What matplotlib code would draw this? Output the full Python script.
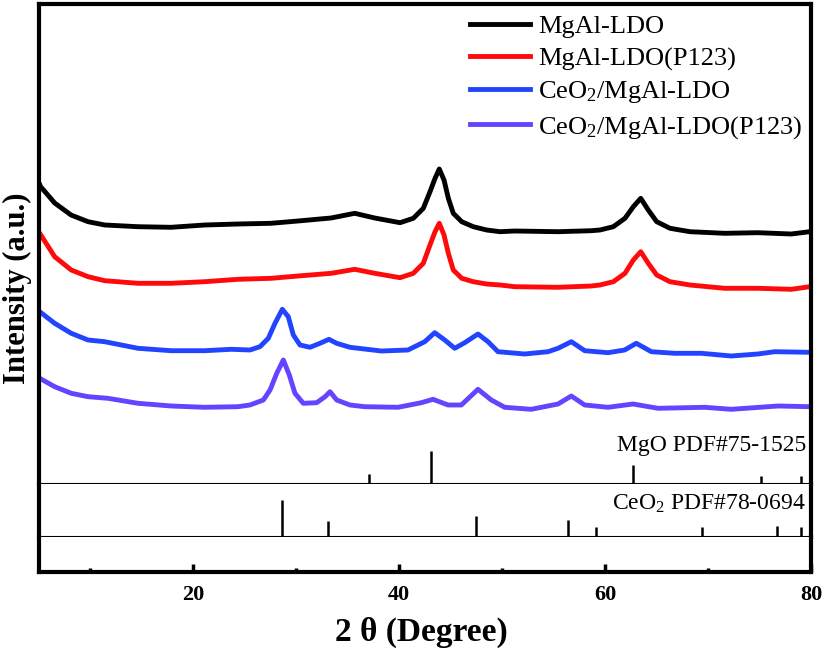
import matplotlib
matplotlib.use("Agg")
import matplotlib.pyplot as plt
import numpy as np

plt.rcParams['font.family'] = ['Liberation Serif', 'DejaVu Serif']
plt.rcParams['mathtext.fontset'] = 'custom'
plt.rcParams['mathtext.rm'] = 'Liberation Serif'
plt.rcParams['mathtext.it'] = 'Liberation Serif:italic'
plt.rcParams['mathtext.bf'] = 'Liberation Serif:bold'

# ---------------- data ----------------
labels = ['MgAl-LDO', 'MgAl-LDO(P123)', 'CeO$_2$/MgAl-LDO', 'CeO$_2$/MgAl-LDO(P123)']
colors = ['#000000', '#FF0A0A', '#2244FF', '#6644FF']

x_black = [5.05, 5.21, 6.57, 8.16, 9.81, 11.43, 14.66, 17.86, 21.14, 24.37, 27.57, 30.19, 33.40,
           35.70, 37.64, 40.10, 41.39, 42.36, 43.01, 43.50, 43.91, 44.37, 44.79, 45.27, 46.09,
           47.21, 48.51, 49.81, 51.23, 55.44, 58.67, 59.51, 60.81, 61.94, 62.75, 63.47, 64.20,
           65.02, 66.31, 68.25, 71.62, 74.85, 78.09, 79.87]
y_black = [301, 297.3, 281, 269, 262.3, 259, 257.3, 256.7, 259, 260, 260.7, 263, 266,
           270.7, 266, 261.3, 265.7, 275.7, 292.3, 305.7, 315, 304, 285.7, 270.7, 262.3,
           257.3, 254, 252.3, 253, 252.3, 253.3, 254, 257.3, 265.7, 277.3, 285.7, 274,
           262.3, 255.7, 252.3, 250.7, 251.3, 250, 252.3]

x_red = [5.10, 6.57, 8.18, 9.81, 11.43, 14.66, 17.89, 21.14, 24.37, 27.60, 30.19, 33.43,
         35.70, 37.64, 40.10, 41.39, 42.36, 43.01, 43.50, 43.91, 44.37, 44.79, 45.27, 46.09,
         47.21, 48.51, 49.81, 51.23, 55.44, 58.67, 59.51, 60.81, 61.94, 62.75, 63.47, 64.20,
         65.02, 66.31, 68.25, 71.62, 74.85, 78.09, 79.87]
y_red = [251, 227.3, 214, 207.3, 203.3, 200.7, 200.7, 202.3, 204.7, 205.7, 208, 210.7,
         214.7, 210.7, 206.3, 210.7, 220.7, 239, 252.3, 260.7, 249, 230.7, 214, 205.7,
         202.3, 200, 199, 197.3, 196.7, 198, 199, 202.3, 210.7, 224, 232.3, 220.7,
         209, 202.3, 199, 195.7, 195.7, 194.7, 197.3]

x_blue = [5.12, 6.57, 8.18, 9.81, 11.43, 13.04, 14.66, 17.89, 21.14, 23.72, 25.53, 26.50,
          27.31, 27.96, 28.67, 29.25, 29.74, 30.39, 31.36, 32.33, 33.20, 33.95, 35.24, 38.28,
          40.87, 42.50, 43.47, 44.44, 45.41, 46.38, 47.67, 48.64, 49.61, 52.20, 54.47, 55.44,
          56.73, 58.03, 60.29, 61.91, 63.04, 64.50, 66.77, 69.35, 72.26, 74.85, 76.47, 79.87]
y_blue = [172.3, 160.7, 150.7, 144, 142.3, 139, 135.7, 133.3, 133.3, 134.7, 134, 137.3,
          145.7, 160.7, 174.7, 167.3, 149, 139, 136.7, 140.7, 144.7, 140.7, 136.7, 133,
          134, 142.3, 151.3, 144, 135.7, 141.3, 150, 142.3, 132.3, 130, 132.3, 135.7,
          142.3, 133.3, 131.3, 134, 140.7, 132.3, 130.7, 130.7, 128, 130, 132.3, 131.7]

x_purple = [5.12, 6.57, 8.18, 9.81, 11.75, 14.66, 17.89, 21.14, 24.37, 25.53, 26.83, 27.48,
            28.13, 28.77, 29.35, 29.90, 30.71, 32.01, 32.82, 33.30, 33.95, 35.24, 36.67, 39.90,
            42.17, 43.30, 44.76, 46.05, 47.67, 48.96, 50.26, 52.84, 55.44, 56.73, 58.03, 60.29,
            62.72, 65.15, 69.68, 72.26, 76.80, 79.87]
y_purple = [105.7, 97.3, 90.7, 87.3, 85.7, 80.7, 78, 76.7, 77.3, 79, 84, 94,
            110.7, 124, 109, 90.7, 80.7, 81.3, 87.3, 92.3, 84, 79, 77.3, 76.7,
            81.3, 84.7, 79, 79, 94.7, 84, 76.7, 74.7, 80, 88, 79, 76.7,
            80, 75.7, 76.7, 74.7, 78, 77.3]

mgo_pos = [37.1, 43.1, 62.7, 75.1, 79.0]
mgo_rel = [31, 100, 56, 24, 24]
ceo2_pos = [28.6, 33.1, 47.5, 56.4, 59.1, 69.4, 76.7, 79.0]
ceo2_rel = [100, 44, 57, 47, 27, 27, 30, 27]

xticks_major = [20, 40, 60, 80]
xticks_minor = [10, 30, 50, 70]

# ---------------- layout ----------------
FW, FH = 827, 652
fig = plt.figure(figsize=(FW / 100, FH / 100), dpi=100)

def fy(py):
    return 1 - py / FH

L = 38.5 / FW
R = 811 / FW
W = R - L
y_top, y_mgo, y_ceo, y_bot = 4, 484, 537, 572

ax1 = fig.add_axes([L, fy(y_mgo), W, (y_mgo - y_top) / FH])
ax_m = fig.add_axes([L, fy(y_mgo), W, 40 / FH])
ax2 = fig.add_axes([L, fy(y_ceo), W, (y_ceo - y_mgo) / FH])
ax3 = fig.add_axes([L, fy(y_bot), W, (y_bot - y_ceo) / FH])

thick, thin = 3.0, 1.5

xs = [x_black, x_red, x_blue, x_purple]
ys = [y_black, y_red, y_blue, y_purple]
for xx, yy, c, lab in zip(xs, ys, colors, labels):
    ax1.plot(xx, yy, color=c, lw=3.5, label=lab, solid_joinstyle='round')
ax1.set_xlim(5, 80)
ax1.set_ylim(0, y_mgo - y_top)
ax1.set_xticks([]); ax1.set_yticks([])
for s in ['left', 'right', 'top']:
    ax1.spines[s].set_linewidth(thick)
ax1.spines['bottom'].set_linewidth(thin)

ax_m.vlines(mgo_pos, 0, mgo_rel, color='black', lw=1.8)
ax_m.set_xlim(5, 80)
ax_m.set_ylim(0, 121)
ax_m.axis('off')
ax_m.patch.set_alpha(0)

ax2.vlines(ceo2_pos, 0, ceo2_rel, color='black', lw=1.8)
ax2.set_xlim(5, 80)
ax2.set_ylim(0, 144)
ax2.set_xticks([]); ax2.set_yticks([])
ax2.spines['top'].set_visible(False)
ax2.spines['left'].set_linewidth(thick)
ax2.spines['right'].set_linewidth(thick)
ax2.spines['bottom'].set_linewidth(thin)

ax3.set_xlim(5, 80)
ax3.set_yticks([])
ax3.set_xticks(xticks_major)
ax3.set_xticks(xticks_minor, minor=True)
ax3.set_xticklabels([str(v) for v in xticks_major], fontsize=16, fontweight='bold')
ax3.tick_params(axis='x', which='major', direction='in', length=6, width=2.5, pad=9)
ax3.tick_params(axis='x', which='minor', direction='in', length=3, width=2.5)
ax3.spines['top'].set_visible(False)
for s in ['left', 'right', 'bottom']:
    ax3.spines[s].set_linewidth(thick)

leg = ax1.legend(loc='upper left', bbox_to_anchor=(470 / FW, fy(15)),
                 bbox_transform=fig.transFigure, frameon=False, fontsize=19,
                 handlelength=2.27, handletextpad=0.3, borderpad=0, borderaxespad=0,
                 labelspacing=0.32)

fig.text(806 / FW, fy(445), 'MgO PDF#75-1525', ha='right', va='center', fontsize=17)
fig.text(806 / FW, fy(504), 'CeO$_2$ PDF#78-0694', ha='right', va='center', fontsize=17)

fig.text(17 / FW, fy(288), 'Intensity (a.u.)', rotation=90, ha='center', va='center',
         fontsize=22, fontweight='bold')
fig.text(421 / FW, fy(632), '2 θ (Degree)', ha='center', va='center',
         fontsize=24, fontweight='bold')

fig.savefig('out.png', dpi=100)
